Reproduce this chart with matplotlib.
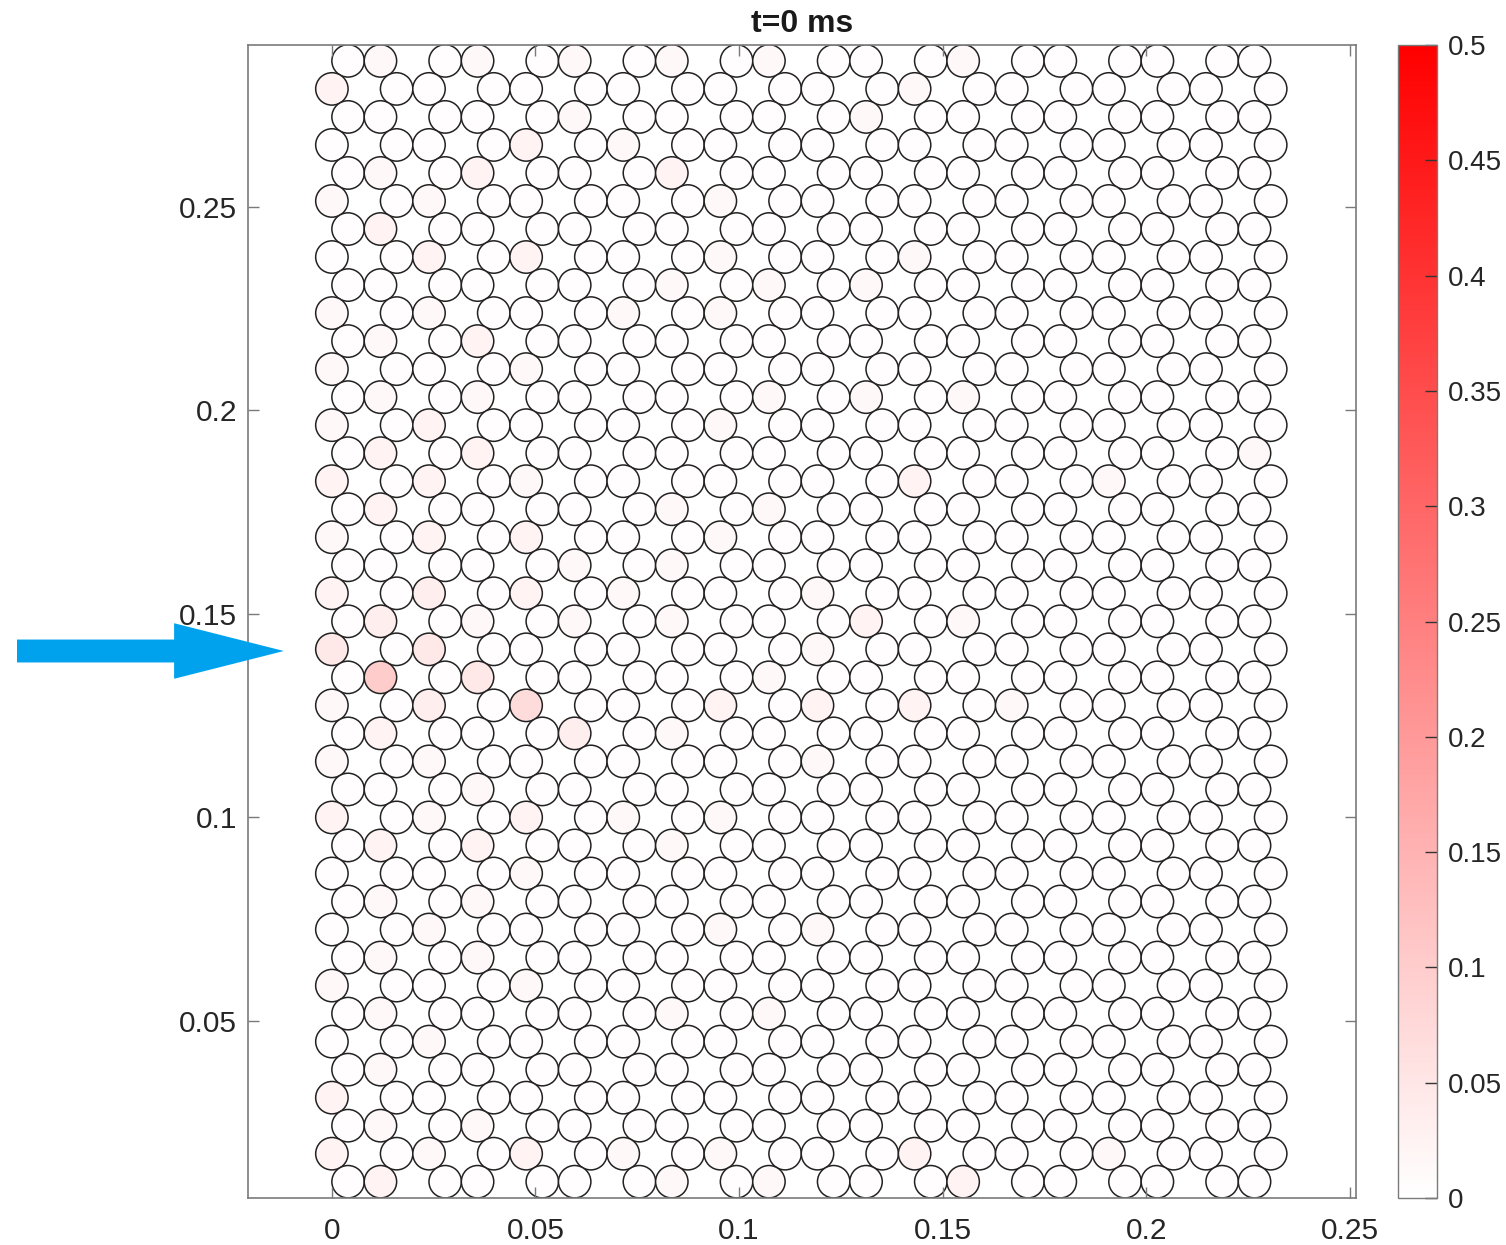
import numpy as np
import matplotlib
matplotlib.use('Agg')
import matplotlib.pyplot as plt
from matplotlib.patches import Circle
from matplotlib.collections import PatchCollection
from matplotlib.colors import LinearSegmentedColormap, Normalize

plt.rcParams['font.family'] = ['Liberation Sans', 'DejaVu Sans']

# honeycomb packing of cells: 41 rows, every third lattice site left empty
pitch = 0.00795
radius = 0.00398
y_bottom = 0.0105
n_rows = 41

# shading level of each cell, one string per row (top row first, left to right)
levels = [
    "12121212121112111111",
    "31111111111121111111",
    "11111211111211111111",
    "11113121111111111111",
    "12131113111111111111",
    "21211111211111111111",
    "13111111111111111111",
    "11313111211121111111",
    "11111112121211111111",
    "21211121211111111111",
    "12131111111111111111",
    "21112111111111111111",
    "12121111121212111111",
    "21311111211111111111",
    "13131111111111111112",
    "31312111111131112111",
    "13111112121111111111",
    "21313111211111111111",
    "11111212111111111111",
    "31413121112111111111",
    "14121212111312111111",
    "51511111112111111111",
    "19151111121111111111",
    "21417111313131211111",
    "13111412111111111111",
    "21211111112111111111",
    "11121111111111111111",
    "31213121211111111111",
    "13131112111111111111",
    "11112111111111111111",
    "12121111111111111111",
    "11211111212111111111",
    "12121111111111111111",
    "21112111111111111111",
    "12111112121111111111",
    "11211111111111111111",
    "12111111111111111111",
    "31111111111111111111",
    "12121111111111111111",
    "31213121211131112111",
    "13111112121113111111",
]
level_value = [0.0, 0.005, 0.015, 0.025, 0.035, 0.045, 0.058, 0.07, 0.084, 0.1]

xticks = [0, 0.05, 0.1, 0.15, 0.2, 0.25]
xticklabels = ['0', '0.05', '0.1', '0.15', '0.2', '0.25']
yticks = [0.05, 0.1, 0.15, 0.2, 0.25]
yticklabels = ['0.05', '0.1', '0.15', '0.2', '0.25']
cticks = [0, 0.05, 0.1, 0.15, 0.2, 0.25, 0.3, 0.35, 0.4, 0.45, 0.5]
cticklabels = ['0', '0.05', '0.1', '0.15', '0.2', '0.25', '0.3', '0.35', '0.4', '0.45', '0.5']

row_step = pitch * np.sqrt(3) / 2
cells = []
values = []
for r, row in enumerate(levels):
    y = y_bottom + (n_rows - 1 - r) * row_step
    if r % 2 == 0:
        sites = [k for k in range(29) if k % 3 != 2]
        x0 = pitch / 2
    else:
        sites = [k for k in range(30) if k % 3 != 1]
        x0 = 0.0
    for k, ch in zip(sites, row):
        cells.append(Circle((x0 + k * pitch, y), radius))
        values.append(level_value[int(ch)])

W, H = 1506, 1245
fig = plt.figure(figsize=(W / 100, H / 100), dpi=100)
ax = fig.add_axes([248 / W, 1 - 1198 / H, 1108 / W, 1153 / H])

cmap = LinearSegmentedColormap.from_list('whitered', ['#ffffff', '#ff0000'])
pc = PatchCollection(cells, cmap=cmap, norm=Normalize(0, 0.5),
                     edgecolor='#222222', linewidth=1.1)
pc.set_array(np.array(values))
ax.add_collection(pc)

ax.set_xlim(-0.0206, 0.2515)
ax.set_ylim(0.0065, 0.2898)
ax.set_xticks(xticks, xticklabels)
ax.set_yticks(yticks, yticklabels)
gray = '#7a7a7a'
ax.tick_params(direction='in', length=8, width=1, top=True, right=True,
               colors=gray, labelcolor='#262626', labelsize=21.5)
ax.tick_params(axis='x', pad=14)
ax.tick_params(axis='y', pad=8)
for s in ax.spines.values():
    s.set_color(gray)
    s.set_linewidth(1.2)
ax.set_title('t=0 ms', fontsize=23, fontweight='bold', color='#1a1a1a', pad=9)

cax = fig.add_axes([1398 / W, 1 - 1198 / H, 39 / W, 1153 / H])
cb = fig.colorbar(pc, cax=cax)
cb.set_ticks(cticks, labels=cticklabels)
cb.ax.tick_params(direction='in', length=9, width=1, colors='#333333',
                  labelcolor='#262626', labelsize=20, pad=8)
cb.outline.set_edgecolor(gray)
cb.outline.set_linewidth(1.0)

# stimulus arrow pointing at the left edge of the sheet
ax.annotate('', xy=(-0.0118, 0.1409), xycoords='data',
            xytext=(17, H - 651), textcoords='figure pixels',
            arrowprops=dict(arrowstyle='simple,head_length=79,head_width=40,tail_width=16.5',
                            mutation_scale=1, color='#00a2ee', lw=0,
                            shrinkA=0, shrinkB=0),
            annotation_clip=False)

fig.savefig('out.png', dpi=100)
